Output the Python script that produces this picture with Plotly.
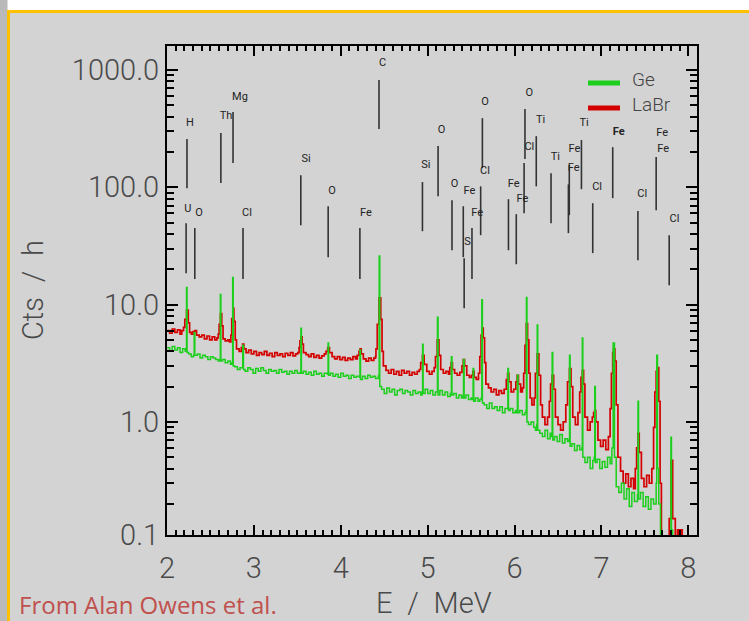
import plotly.graph_objects as go

# ---------------- data ----------------
ge_spectrum = [
    (2.00, 4.3), (2.03, 4.0), (2.06, 4.4), (2.09, 4.1), (2.12, 4.3), (2.15, 3.9), (2.18, 4.2), (2.21, 4.0),
    (2.219, 4.1), (2.225, 14.0), (2.231, 3.9), (2.25, 3.8), (2.28, 3.6),
    (2.306, 3.7), (2.313, 5.8), (2.32, 3.7), (2.35, 3.8), (2.38, 3.5), (2.41, 3.7), (2.44, 3.6),
    (2.47, 3.4), (2.50, 3.6), (2.53, 3.5), (2.56, 3.4), (2.59, 3.3),
    (2.608, 3.4), (2.614, 12.2), (2.62, 3.3), (2.64, 3.4), (2.67, 3.2), (2.70, 3.3), (2.73, 3.1),
    (2.750, 3.2), (2.756, 17.0), (2.762, 3.0), (2.78, 2.95), (2.81, 2.8), (2.84, 2.9),
    (2.866, 2.9), (2.872, 4.5), (2.88, 2.8), (2.90, 2.7), (2.93, 2.9), (2.96, 2.8), (2.99, 2.6),
    (3.02, 2.85), (3.05, 2.7), (3.08, 2.9), (3.11, 2.75), (3.14, 2.6), (3.17, 2.8), (3.20, 2.7),
    (3.23, 2.75), (3.26, 2.6), (3.29, 2.8), (3.32, 2.65), (3.35, 2.7), (3.38, 2.55), (3.41, 2.7),
    (3.44, 2.6), (3.47, 2.75), (3.50, 2.6),
    (3.535, 2.65), (3.541, 6.3), (3.547, 2.6), (3.57, 2.7), (3.60, 2.55), (3.63, 2.65), (3.66, 2.5),
    (3.69, 2.7), (3.72, 2.55), (3.75, 2.6), (3.78, 2.45), (3.81, 2.6),
    (3.848, 2.55), (3.854, 4.7), (3.86, 2.5), (3.88, 2.6), (3.91, 2.45), (3.94, 2.55), (3.97, 2.4),
    (4.00, 2.6), (4.03, 2.45), (4.06, 2.5), (4.09, 2.35), (4.12, 2.5), (4.15, 2.4), (4.18, 2.45),
    (4.215, 2.4), (4.221, 4.1), (4.227, 2.3), (4.25, 2.45), (4.28, 2.35), (4.31, 2.5), (4.34, 2.4),
    (4.37, 2.45), (4.40, 2.35), (4.43, 2.4),
    (4.436, 2.5), (4.442, 26.0), (4.449, 2.0), (4.47, 1.9), (4.50, 1.75), (4.53, 1.95), (4.56, 1.8),
    (4.59, 1.9), (4.62, 1.7), (4.65, 1.85), (4.68, 1.9), (4.71, 1.75), (4.74, 1.85), (4.77, 1.8),
    (4.80, 1.7), (4.83, 1.85), (4.86, 1.75), (4.89, 1.8), (4.92, 1.7),
    (4.936, 1.8), (4.942, 4.6), (4.948, 1.75), (4.97, 1.9), (5.00, 1.75), (5.03, 1.85), (5.06, 1.7),
    (5.09, 1.8), (5.107, 1.8), (5.113, 7.8), (5.12, 1.7), (5.14, 1.85), (5.17, 1.7), (5.20, 1.8),
    (5.23, 1.65), (5.26, 1.75), (5.267, 1.7), (5.273, 3.6), (5.28, 1.7), (5.30, 1.75), (5.33, 1.6),
    (5.36, 1.7), (5.39, 1.6), (5.407, 1.65), (5.413, 3.4), (5.42, 1.6), (5.44, 1.7), (5.47, 1.55),
    (5.50, 1.6), (5.517, 1.55), (5.523, 2.85), (5.53, 1.5), (5.55, 1.6), (5.58, 1.5), (5.60, 1.55),
    (5.617, 1.6), (5.623, 11.0), (5.63, 1.45), (5.65, 1.4), (5.68, 1.3), (5.71, 1.45), (5.74, 1.3),
    (5.77, 1.35), (5.80, 1.25), (5.83, 1.35), (5.86, 1.2), (5.89, 1.3),
    (5.917, 1.3), (5.923, 2.85), (5.93, 1.25), (5.95, 1.3), (5.98, 1.2), (6.01, 1.25),
    (6.027, 1.2), (6.033, 2.5), (6.04, 1.2), (6.06, 1.25), (6.09, 1.15), (6.12, 1.2),
    (6.131, 1.25), (6.137, 11.5), (6.143, 1.0), (6.16, 0.95), (6.19, 1.0), (6.22, 0.9), (6.24, 0.85),
    (6.255, 0.95), (6.261, 6.7), (6.267, 0.85), (6.29, 0.8), (6.32, 0.75), (6.35, 0.85), (6.38, 0.72),
    (6.41, 0.8), (6.427, 0.75), (6.433, 3.9), (6.44, 0.7), (6.46, 0.75), (6.49, 0.68), (6.52, 0.78),
    (6.55, 0.66), (6.58, 0.72), (6.61, 0.68),
    (6.627, 0.7), (6.633, 3.7), (6.64, 0.62), (6.66, 0.65), (6.69, 0.57), (6.72, 0.63), (6.75, 0.58),
    (6.774, 0.6), (6.780, 5.2), (6.786, 0.5), (6.81, 0.45), (6.84, 0.5), (6.87, 0.4), (6.90, 0.47),
    (6.917, 0.5), (6.923, 2.0), (6.93, 0.45), (6.95, 0.48), (6.98, 0.4), (7.01, 0.46), (7.04, 0.41),
    (7.07, 0.5), (7.10, 0.44), (7.12, 0.6), (7.135, 4.7), (7.15, 0.5), (7.17, 0.28), (7.20, 0.25),
    (7.23, 0.3), (7.26, 0.22), (7.29, 0.27), (7.32, 0.19), (7.35, 0.25), (7.38, 0.21),
    (7.415, 0.24), (7.421, 1.5), (7.427, 0.22), (7.45, 0.25), (7.48, 0.19), (7.51, 0.23), (7.54, 0.18),
    (7.57, 0.22), (7.60, 0.2), (7.63, 0.3), (7.637, 3.7), (7.645, 0.4), (7.66, 0.2), (7.68, 0.05),
    (7.75, 0.05), (7.794, 0.1), (7.800, 0.74), (7.806, 0.12), (7.82, 0.05), (8.10, 0.05),
]

labr_spectrum = [
    (2.00, 6.0), (2.03, 5.7), (2.06, 6.2), (2.09, 5.8), (2.12, 6.1), (2.15, 5.6), (2.17, 6.0),
    (2.19, 6.4), (2.205, 7.5), (2.225, 9.0), (2.245, 7.0), (2.26, 5.8), (2.28, 5.6), (2.30, 5.9),
    (2.32, 6.0), (2.34, 5.5), (2.37, 5.3), (2.40, 5.5), (2.43, 5.1), (2.46, 5.4), (2.49, 5.0),
    (2.52, 5.3), (2.55, 5.0), (2.575, 5.2),
    (2.59, 5.6), (2.60, 6.8), (2.615, 8.4), (2.63, 6.6), (2.645, 5.1), (2.67, 4.9), (2.70, 5.0),
    (2.72, 4.8), (2.735, 5.5), (2.745, 7.6), (2.758, 9.3), (2.77, 7.2), (2.785, 5.0), (2.80, 4.2),
    (2.83, 4.0), (2.855, 4.3), (2.87, 4.6), (2.885, 4.2), (2.91, 3.9), (2.94, 4.1), (2.97, 3.8),
    (3.00, 4.0), (3.03, 3.7), (3.06, 3.9), (3.09, 3.75), (3.12, 4.0), (3.15, 3.7), (3.18, 3.85),
    (3.21, 3.6), (3.24, 3.9), (3.27, 3.7), (3.30, 3.8), (3.33, 3.6), (3.36, 3.85), (3.39, 3.7),
    (3.42, 3.9), (3.45, 3.65), (3.48, 3.8), (3.505, 3.9),
    (3.52, 4.3), (3.53, 4.9), (3.542, 5.3), (3.555, 4.6), (3.57, 3.9), (3.60, 3.75), (3.63, 3.6),
    (3.66, 3.8), (3.69, 3.55), (3.72, 3.7), (3.75, 3.5), (3.78, 3.65), (3.81, 3.8),
    (3.83, 4.0), (3.85, 4.3), (3.87, 3.9), (3.90, 3.6), (3.93, 3.45), (3.96, 3.6), (3.99, 3.4),
    (4.02, 3.55), (4.05, 3.35), (4.08, 3.5), (4.11, 3.4), (4.14, 3.6), (4.17, 3.45), (4.19, 3.7),
    (4.21, 4.0), (4.222, 4.2), (4.235, 3.8), (4.26, 3.45), (4.29, 3.3), (4.32, 3.5), (4.35, 3.35),
    (4.38, 3.5), (4.40, 3.6),
    (4.405, 4.2), (4.42, 6.8), (4.44, 11.4), (4.46, 7.5), (4.475, 4.0), (4.49, 3.0), (4.52, 2.75),
    (4.55, 2.6), (4.58, 2.8), (4.61, 2.55), (4.64, 2.7), (4.67, 2.5), (4.70, 2.75), (4.73, 2.6),
    (4.76, 2.7), (4.79, 2.5), (4.82, 2.65), (4.85, 2.55), (4.88, 2.7), (4.905, 2.8),
    (4.92, 3.2), (4.94, 3.7), (4.96, 3.1), (4.99, 2.7), (5.02, 2.55), (5.05, 2.7), (5.075, 2.9),
    (5.09, 3.6), (5.11, 5.0), (5.13, 3.7), (5.15, 2.8), (5.18, 2.6), (5.21, 2.7), (5.24, 2.55),
    (5.255, 2.9), (5.27, 3.2), (5.285, 2.8), (5.31, 2.6), (5.34, 2.5), (5.37, 2.65),
    (5.395, 3.0), (5.41, 3.4), (5.425, 3.0), (5.45, 2.5), (5.48, 2.4),
    (5.505, 2.5), (5.52, 2.7), (5.535, 2.4), (5.56, 2.3), (5.585, 2.6),
    (5.60, 3.6), (5.615, 5.5), (5.628, 6.3), (5.64, 5.2), (5.655, 3.2), (5.67, 2.1), (5.70, 1.95),
    (5.73, 1.8), (5.76, 1.9), (5.79, 1.7), (5.82, 1.85), (5.85, 1.75), (5.88, 1.9),
    (5.905, 2.3), (5.92, 2.6), (5.935, 2.2), (5.96, 1.8), (5.99, 1.9),
    (6.015, 2.2), (6.03, 2.5), (6.045, 2.1), (6.07, 1.8), (6.09, 1.95), (6.105, 2.6),
    (6.12, 4.5), (6.135, 6.9), (6.15, 5.0), (6.165, 2.6), (6.18, 1.6), (6.20, 1.4), (6.225, 1.6),
    (6.24, 2.6), (6.26, 3.8), (6.28, 2.5), (6.30, 1.4), (6.32, 1.1), (6.35, 0.95), (6.38, 1.1),
    (6.40, 1.5), (6.415, 2.1), (6.432, 2.5), (6.45, 1.9), (6.47, 1.1), (6.50, 0.95), (6.53, 0.85),
    (6.56, 1.0), (6.59, 1.4), (6.61, 2.2), (6.632, 2.85), (6.65, 2.0), (6.67, 1.1), (6.70, 0.95),
    (6.73, 1.2), (6.75, 1.8), (6.765, 2.4), (6.78, 2.75), (6.795, 2.1), (6.81, 1.1), (6.84, 0.85),
    (6.87, 1.0), (6.895, 1.1), (6.91, 1.2), (6.922, 1.25), (6.935, 1.0), (6.96, 0.7), (6.99, 0.62),
    (7.02, 0.7), (7.05, 0.58), (7.08, 0.75), (7.10, 1.3),
    (7.115, 2.6), (7.13, 3.9), (7.14, 4.2), (7.155, 3.3), (7.17, 1.4), (7.19, 0.5), (7.22, 0.38),
    (7.25, 0.3), (7.28, 0.36), (7.31, 0.28), (7.34, 0.33), (7.37, 0.27), (7.39, 0.4),
    (7.405, 0.6), (7.42, 0.8), (7.435, 0.55), (7.46, 0.33), (7.49, 0.28), (7.52, 0.35), (7.55, 0.3),
    (7.58, 0.4), (7.60, 0.9), (7.615, 1.8), (7.63, 2.7), (7.645, 2.9), (7.66, 1.5), (7.675, 0.3),
    (7.69, 0.05), (7.75, 0.05), (7.78, 0.15), (7.80, 0.47), (7.82, 0.15), (7.85, 0.05),
    (7.875, 0.12), (7.89, 0.05), (7.91, 0.12), (7.93, 0.05), (8.10, 0.05),
]

# element marker lines: energy, lower and upper end (Cts/h)
line_energy = [2.23, 2.62, 2.76, 2.22, 2.32, 2.875, 3.54, 3.855, 4.22, 4.44, 4.94, 5.12, 5.28,
               5.41, 5.42, 5.51, 5.61, 5.63, 5.93, 6.02, 6.11, 6.12, 6.25, 6.42, 6.62, 6.63,
               6.77, 6.90, 7.13, 7.42, 7.63, 7.78]
line_low = [98, 109, 161, 18.5, 16.5, 16.5, 47.6, 25.4, 16.5, 314, 42.3, 84, 29.1,
            25.4, 9.3, 16.5, 39.1, 146, 29.1, 22.1, 60.2, 174, 102, 49.5, 40.7, 57.9,
            96.5, 27.5, 80.9, 23.9, 63.9, 14.6]
line_high = [258, 290, 438, 49.5, 45, 45, 127, 69, 45, 821, 111, 225, 77.8,
             69, 24.9, 45, 102, 389, 79.3, 59.1, 161, 465, 273, 132, 106, 155,
             253, 73.3, 220, 62.7, 181, 39.1]

label_text = ["H", "Th", "Mg", "U", "O", "Cl", "Si", "O", "Fe", "C", "Si", "O", "O",
              "Fe", "S", "Fe", "Cl", "O", "Fe", "Fe", "Cl", "O", "Ti", "Ti", "Fe", "Fe",
              "Ti", "Cl", "<b>Fe</b>", "Cl", "Fe", "Fe", "Cl"]
label_energy = [2.265, 2.68, 2.84, 2.24, 2.37, 2.92, 3.60, 3.90, 4.29, 4.48, 4.98, 5.16, 5.31,
                5.48, 5.46, 5.57, 5.66, 5.66, 5.99, 6.09, 6.17, 6.17, 6.30, 6.47, 6.68, 6.69,
                6.80, 6.95, 7.20, 7.47, 7.70, 7.71, 7.84]
label_counts = [353, 405, 588, 65, 60, 60, 174, 93, 60, 1147, 155, 308, 106,
                93, 34, 60, 137, 533, 106, 79, 220, 637, 375, 181, 146, 212,
                353, 100, 296, 87.5, 290, 210, 53.5]

x_tick_vals = [2, 3, 4, 5, 6, 7, 8]
x_tick_text = ["2", "3", "4", "5", "6", "7", "8"]
y_tick_vals = [0.1087, 1, 10, 100, 1000]
y_tick_text = ["0.1", "1.0", "10.0", "100.0", "1000.0"]

series_names = ["Ge", "LaBr"]
GREEN = "#1ccf1c"
RED = "#d40000"

# ---------------- figure ----------------
fig = go.Figure()

fig.add_trace(go.Scatter(
    x=[p[0] for p in labr_spectrum], y=[p[1] for p in labr_spectrum],
    mode="lines", line=dict(color=RED, width=1.7, shape="hv"),
    name=series_names[1], showlegend=False, hoverinfo="skip"))
fig.add_trace(go.Scatter(
    x=[p[0] for p in ge_spectrum], y=[p[1] for p in ge_spectrum],
    mode="lines", line=dict(color=GREEN, width=1.5, shape="hv"),
    name=series_names[0], showlegend=False, hoverinfo="skip"))

lx, ly = [], []
for e, lo, hi in zip(line_energy, line_low, line_high):
    lx += [e, e, None]
    ly += [lo, hi, None]
fig.add_trace(go.Scatter(x=lx, y=ly, mode="lines",
                         line=dict(color="#333333", width=1.6),
                         showlegend=False, hoverinfo="skip"))
fig.add_trace(go.Scatter(x=label_energy, y=label_counts, mode="text", text=label_text,
                         textposition="middle center",
                         textfont=dict(family="Roboto", size=11, color="#222222"),
                         showlegend=False, hoverinfo="skip"))

# plot area in pixels: x 167..697, y 46..535
def px(xp):
    return (xp - 167) / 530.0


def py(yp):
    return (535 - yp) / 489.0


shapes = [
    dict(type="rect", xref="paper", yref="paper", x0=px(-40), x1=px(7.5), y0=py(700), y1=py(-40),
         fillcolor="#b9b9b9", line=dict(width=0), layer="below"),
    dict(type="rect", xref="paper", yref="paper", x0=px(8.5), x1=px(800), y0=py(700), y1=py(11.5),
         fillcolor="#d3d3d3", line=dict(color="#ffc000", width=3), layer="below"),
    dict(type="line", xref="paper", yref="paper", x0=px(588), x1=px(620), y0=py(83), y1=py(83),
         line=dict(color=GREEN, width=5)),
    dict(type="line", xref="paper", yref="paper", x0=px(588), x1=px(620), y0=py(108), y1=py(108),
         line=dict(color=RED, width=5)),
]

tfont = dict(family="Roboto", size=29, color="#4a4a4a", weight=300)
annotations = [
    dict(xref="paper", yref="paper", x=px(630), y=py(79), text=series_names[0], showarrow=False,
         xanchor="left", yanchor="middle", font=dict(family="Roboto", size=19, color="#444444", weight=300)),
    dict(xref="paper", yref="paper", x=px(630), y=py(104), text=series_names[1], showarrow=False,
         xanchor="left", yanchor="middle", font=dict(family="Roboto", size=19, color="#444444", weight=300)),
    dict(xref="paper", yref="paper", x=px(434), y=py(603), text="E\u2002/\u2002MeV", showarrow=False,
         xanchor="center", yanchor="middle", font=tfont),
    dict(xref="paper", yref="paper", x=px(33), y=py(290), text="Cts\u2002/\u2002h", showarrow=False,
         textangle=-90, xanchor="center", yanchor="middle", font=tfont),
    dict(xref="paper", yref="paper", x=px(17), y=py(604), text="From Alan Owens et al.",
         showarrow=False, xanchor="left", yanchor="middle",
         font=dict(family="Open Sans", size=24, color="#c0504d")),
]

minor_y = []
for dec in [0.1, 1, 10, 100, 1000]:
    for k in range(2, 10):
        minor_y.append(k * dec)

fig.update_layout(
    width=749, height=621,
    margin=dict(l=167, r=52, t=46, b=86),
    paper_bgcolor="white", plot_bgcolor="rgba(0,0,0,0)",
    shapes=shapes, annotations=annotations, showlegend=False,
    xaxis=dict(range=[2, 8.1], showline=True, linecolor="black", linewidth=2, mirror="allticks",
               ticks="inside", ticklen=10, tickwidth=2, tickcolor="black",
               tickmode="array", tickvals=x_tick_vals, ticktext=x_tick_text,
               minor=dict(ticks="inside", ticklen=5, tickwidth=1.5, tickcolor="black", dtick=0.1,
                          showgrid=False),
               showgrid=False, zeroline=False, tickfont=tfont, ticklabelstandoff=6),
    yaxis=dict(type="log", range=[-0.964, 3.205], showline=True, linecolor="black", linewidth=2,
               mirror="allticks", ticks="inside", ticklen=11, tickwidth=2, tickcolor="black",
               tickmode="array", tickvals=y_tick_vals, ticktext=y_tick_text,
               minor=dict(ticks="inside", ticklen=7, tickwidth=1.5, tickcolor="black",
                          tickmode="array", tickvals=minor_y, showgrid=False),
               showgrid=False, zeroline=False, tickfont=tfont, ticklabelstandoff=0),
)

fig.write_html("out.html")
